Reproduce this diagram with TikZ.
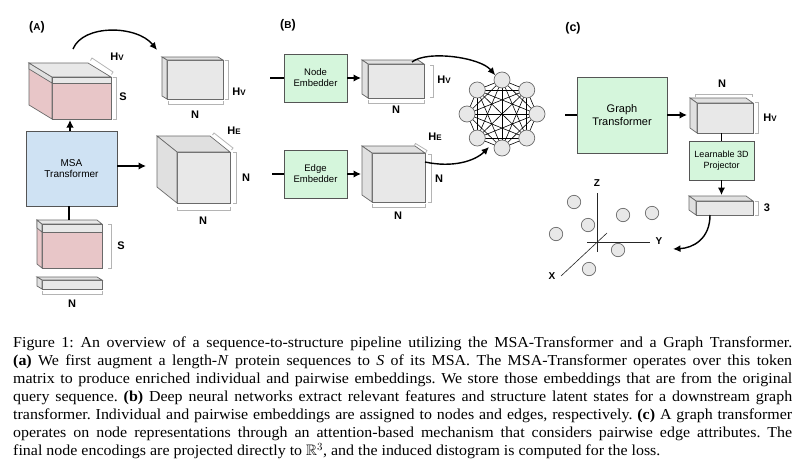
\documentclass[tikz,border=0pt]{standalone}
\usepackage{fontspec}
\usepackage{amssymb}
\setmainfont{Liberation Serif}
\setsansfont{Liberation Sans}
\newfontfamily\capfont{Liberation Serif}[FakeStretch=1.05]
\usetikzlibrary{calc,arrows.meta}
\definecolor{facec}{HTML}{E8E8E8}
\definecolor{sidec}{HTML}{E0E0E0}
\definecolor{edgec}{HTML}{6A6A6A}
\definecolor{pinkc}{HTML}{E8C6C8}
\definecolor{bluec}{HTML}{CFE2F3}
\definecolor{greenc}{HTML}{D5F6DC}
\definecolor{boxedge}{HTML}{555555}
\definecolor{brc}{HTML}{B4B4B4}
\newcommand\cubesides[4]{%
  \filldraw[face, fill=#4] (#1.north west) -- ++(#2,#3) -- ($(#1.north east)+(#2,#3)$) -- (#1.north east) -- cycle;
  \filldraw[face, fill=#4] (#1.north west) -- ++(#2,#3) -- ($(#1.south west)+(#2,#3)$) -- (#1.south west) -- cycle;}
\newcommand\bandcube[4]{% name dx dy band
  \filldraw[face, fill=pinkc] (#1.north west) -- ++(#2,#3) -- ($(#1.south west)+(#2,#3)$) -- (#1.south west) -- cycle;
  \filldraw[face, fill=sidec] (#1.north west) -- ++(#2,#3) -- ++(0,#4) -- ($(#1.north west)+(0,#4)$) -- cycle;
  \filldraw[face, fill=facec] (#1.north west) -- ++(#2,#3) -- ($(#1.north east)+(#2,#3)$) -- (#1.north east) -- cycle;
  \filldraw[face, fill=facec] (#1.north west) rectangle ($(#1.north east)+(0,#4)$);}
\newcommand\hv{H{\fontsize{8}{8}\selectfont V}}
\newcommand\he{H{\fontsize{8}{8}\selectfont E}}
\begin{document}
\begin{tikzpicture}[x=1pt,y=-1pt,
  face/.style={draw=edgec, line width=0.7pt, fill=facec, inner sep=0pt, outer sep=0pt},
  blk/.style={draw=boxedge, line width=0.8pt, inner sep=0pt, outer sep=0pt, align=center,
    font=\sffamily\fontsize{10}{11.5}\selectfont},
  lbl/.style={font=\sffamily\bfseries\fontsize{11}{11}\selectfont, inner sep=0pt},
  plbl/.style={font=\sffamily\bfseries\fontsize{12.5}{12.5}\selectfont, inner sep=0pt},
  brk/.style={draw=brc, line width=0.8pt},
  arr/.style={line width=1.8pt, -{Latex[length=7.5pt,width=7.5pt]}},
  ln/.style={line width=1.8pt},
  carr/.style={line width=1.4pt, -{Latex[length=7.5pt,width=7pt]}},
  gnode/.style={circle, draw=edgec, fill=facec, line width=0.7pt, minimum size=16pt, inner sep=0pt},
  pnode/.style={circle, draw=edgec, fill=facec, line width=0.7pt, minimum size=13.4pt, inner sep=0pt},
  axis/.style={line width=0.6pt, draw=black!85},
]
\useasboundingbox[fill=white] (0,0) rectangle (802,466);

% ---------------- Panel A ----------------
\node[plbl] (la) at (37,27) {({\fontsize{10}{10}\selectfont A})};

\node[face, fill=pinkc, minimum width=59pt, minimum height=42pt] (a1) at (81.5,98) {};
\bandcube{a1}{-23}{-14}{6}
\draw[brk] (90.5,60.5) -- (92,58) -- (113,72) -- (111.5,74.5);
\node[lbl] (a1hv) at (117,57) {\hv};
\draw[brk] (113,77) -- (116,77) -- (116,119) -- (113,119);
\node[lbl] (a1s) at (123,97) {S};

\node[blk, fill=bluec, minimum width=91pt, minimum height=75pt] (msa) at (71.5,168.5) {MSA\\Transformer};
\draw[arr] (msa.north -| 70,0) -- (70,120);

\node[face, fill=pinkc, minimum width=60pt, minimum height=44pt] (a2) at (72,246) {};
\bandcube{a2}{-5}{-4}{8}
\draw[ln] (msa.south -| 69,0) -- (69,220);
\draw[brk] (108,224) -- (111,224) -- (111,268) -- (108,268);
\node[lbl] (a2s) at (121,246) {S};

\node[face, minimum width=60pt, minimum height=9pt] (a3) at (72,284.5) {};
\cubesides{a3}{-5}{-3}{sidec}
\draw[brk] (42,291) -- (42,294) -- (102,294) -- (102,291);
\node[lbl] (a3n) at (72,304) {N};

\node[face, minimum width=56pt, minimum height=39pt] (a4) at (195,79.5) {};
\cubesides{a4}{-5}{-3}{sidec}
\draw[brk] (225,60) -- (228,60) -- (228,99) -- (225,99);
\node[lbl] (a4hv) at (239,92) {\hv};
\draw[brk] (168,101) -- (168,104) -- (223,104) -- (223,101);
\node[lbl] (a4n) at (195,115) {N};

\coordinate (ca1) at (73,49);
\coordinate (ca2) at (157,50);
\draw[carr] (ca1) .. controls +(10,-25) and +(-20,-25) .. (ca2);

\node[face, minimum width=53pt, minimum height=51pt] (a5) at (203.5,177.5) {};
\cubesides{a5}{-20}{-16}{sidec}
\draw[brk] (212.5,135) -- (214,133) -- (233,148) -- (231.5,150);
\node[lbl] (a5he) at (234,131) {\he};
\draw[brk] (233,152) -- (236,152) -- (236,203) -- (233,203);
\node[lbl] (a5n1) at (246,178) {N};
\draw[brk] (177,207) -- (177,210) -- (230,210) -- (230,207);
\node[lbl] (a5n2) at (203,221) {N};

\draw[arr] (msa.east |- 0,166) -- (146,166);

% ---------------- Panel B ----------------
\node[plbl] (lb) at (288,25) {({\fontsize{10}{10}\selectfont B})};

\node[blk, fill=greenc, minimum width=63pt, minimum height=48pt, font=\sffamily\fontsize{9.5}{11}\selectfont] (nemb) at (315.5,78) {Node\\Embedder};
\node[blk, fill=greenc, minimum width=63pt, minimum height=48pt, font=\sffamily\fontsize{9.5}{11}\selectfont] (eemb) at (315.5,174) {Edge\\Embedder};
\coordinate (nin) at (270,78);
\coordinate (ein) at (272,174);
\draw[ln] (nin) -- (nemb.west);
\draw[ln] (ein) -- (eemb.west);

\node[face, minimum width=56pt, minimum height=34pt] (b1) at (396,81) {};
\cubesides{b1}{-6}{-4}{sidec}
\draw[arr] (nemb.east) -- ($(nemb.east -| b1.west)+(-7,0)$);
\draw[brk] (430,65) -- (433,65) -- (433,97) -- (430,97);
\node[lbl] (b1hv) at (444,80) {\hv};
\draw[brk] (368,100) -- (368,103) -- (424,103) -- (424,100);
\node[lbl] (b1n) at (396,110) {N};

\node[face, minimum width=53pt, minimum height=49pt] (b2) at (398.5,177.5) {};
\cubesides{b2}{-10}{-7}{sidec}
\draw[arr] (eemb.east) -- ($(eemb.east -| b2.west)+(-11,0)$);
\draw[brk] (414,146) -- (415.5,143.5) -- (427,150.5) -- (425.5,153);
\node[lbl] (b2he) at (435,137) {\he};
\draw[brk] (428,154) -- (431,154) -- (431,202) -- (428,202);
\node[lbl] (b2n1) at (439,179) {N};
\draw[brk] (372,204) -- (372,207) -- (425,207) -- (425,204);
\node[lbl] (b2n2) at (398,216) {N};

% graph
\foreach \i in {1,...,8}
  \coordinate (gc\i) at ({502+35*cos(90-45*(\i-1))},{114-34*sin(90-45*(\i-1))});
\foreach \i in {1,...,8}{
  \foreach \j in {1,...,8}{
    \ifnum\j>\i \draw[line width=0.6pt] (gc\i) -- (gc\j); \fi
  }}
\foreach \i in {1,...,8}
  \node[gnode] (g\i) at (gc\i) {};

\coordinate (cb1) at (412,62);
\draw[carr] (cb1) .. controls +(15,-12) and +(-15,-18) .. (g1.145);
\coordinate (cb2) at (425,162);
\coordinate (cb3) at (489,147);
\draw[carr] (cb2) .. controls +(28,6) and +(-14,14) .. (cb3);

% ---------------- Panel C ----------------
\node[plbl] (lc) at (573,28) {(c)};

\node[blk, fill=greenc, minimum width=90pt, minimum height=76pt, font=\sffamily\fontsize{11}{12.5}\selectfont] (gt) at (622,115) {Graph\\Transformer};
\coordinate (gin) at (565,115);
\draw[ln] (gin) -- (gt.west);

\node[face, minimum width=56pt, minimum height=30pt] (c1) at (725,118) {};
\cubesides{c1}{-7}{-5}{sidec}
\draw[arr] (gt.east) -- ($(gt.east -| c1.west)+(-10,0)$);
\draw[brk] (695,97) -- (695,94) -- (752,94) -- (752,97);
\node[lbl] (c1n) at (722,84) {N};
\draw[brk] (755,102) -- (758,102) -- (758,133) -- (755,133);
\node[lbl] (c1hv) at (770,118) {\hv};

\node[blk, fill=greenc, minimum width=65pt, minimum height=39pt, font=\sffamily\fontsize{9}{10.5}\selectfont] (proj) at (721.5,160.5) {Learnable 3D\\Projector};
\draw[ln] (proj.north |- c1.south) -- (proj.north);

\node[face, minimum width=57pt, minimum height=14pt] (c2) at (724.5,208) {};
\cubesides{c2}{-7}{-5}{sidec}
\draw[arr] (proj.south) -- ($(proj.south |- c2.north)+(0,-6)$);
\draw[brk] (755,201) -- (758,201) -- (758,215) -- (755,215);
\node[lbl] (c23) at (767,208) {3};

% axes
\coordinate (zt) at (597,193); \coordinate (zb) at (597,252);
\coordinate (yl) at (587,242); \coordinate (yr) at (650,242);
\coordinate (xt) at (607,233); \coordinate (xb) at (561,276);
\draw[axis] (zt) -- (zb);
\draw[axis] (yl) -- (yr);
\draw[axis] (xt) -- (xb);
\node[lbl, font=\sffamily\bfseries\fontsize{10}{10}\selectfont] (zl) at (597,183) {Z};
\node[lbl, font=\sffamily\bfseries\fontsize{10}{10}\selectfont] (ylab) at (659,241) {Y};
\node[lbl, font=\sffamily\bfseries\fontsize{10}{10}\selectfont] (xl) at (552,276) {X};
\node[pnode] (p1) at (574,202) {};
\node[pnode] (p2) at (623,215) {};
\node[pnode] (p3) at (652,213) {};
\node[pnode] (p4) at (588,225) {};
\node[pnode] (p5) at (556,234) {};
\node[pnode] (p6) at (618,250) {};
\node[pnode] (p7) at (589,269) {};

\coordinate (cd1) at ($(c2.south west)+(14,0)$);
\coordinate (cd2) at (673,249);
\draw[carr] (cd1) .. controls +(0,24) and +(20,-1) .. (cd2);

% ---------------- Caption ----------------
\node[anchor=north west, inner sep=0pt, text width=779pt, align=justify,
  font=\capfont\fontsize{15.2}{18}\selectfont\frenchspacing] (cap) at (13,337) {%
Figure 1: An overview of a sequence-to-structure pipeline utilizing the MSA-Transformer and a Graph Transformer.\linebreak
\textbf{(a)} We first augment a length-\textit{N} protein sequences to \textit{S} of its MSA. The MSA-Transformer operates over this token\linebreak
matrix to produce enriched individual and pairwise embeddings. We store those embeddings that are from the original\linebreak
query sequence. \textbf{(b)} Deep neural networks extract relevant features and structure latent states for a downstream graph\linebreak
transformer. Individual and pairwise embeddings are assigned to nodes and edges, respectively. \textbf{(c)} A graph transformer\linebreak
operates on node representations through an attention-based mechanism that considers pairwise edge attributes. The\linebreak
final node encodings are projected directly to $\mathbb{R}^3$, and the induced distogram is computed for the loss.};
\end{tikzpicture}
\end{document}
